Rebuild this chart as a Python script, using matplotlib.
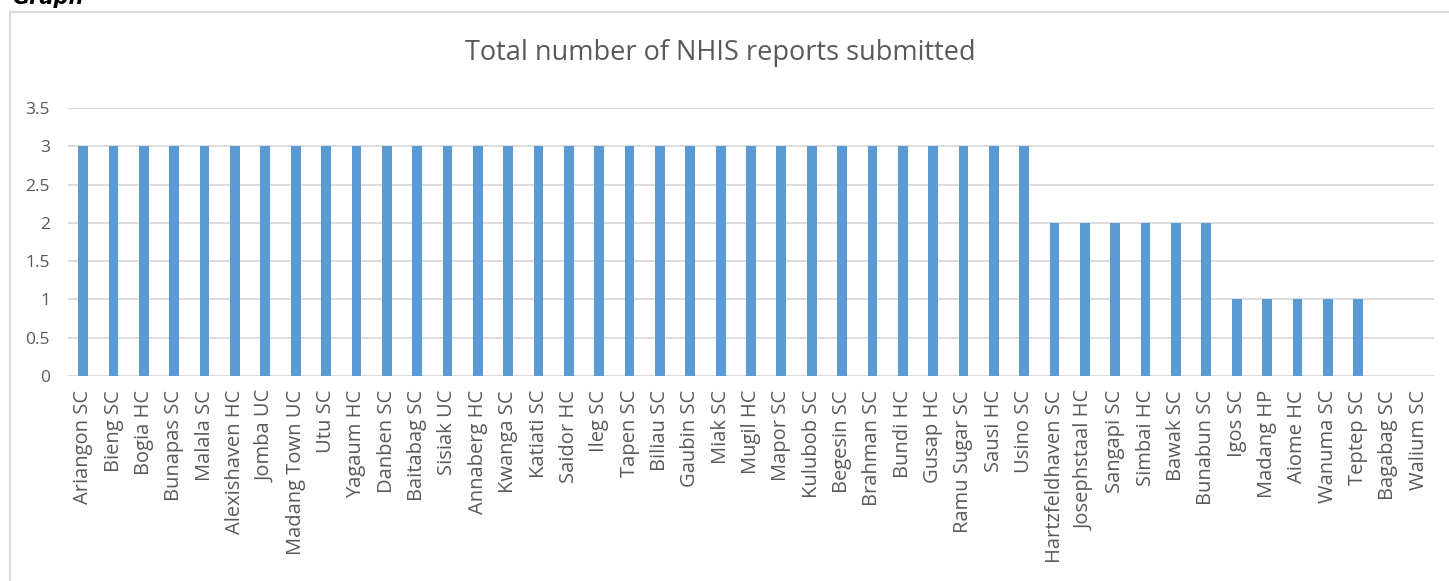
import matplotlib.pyplot as plt
from matplotlib.patches import Rectangle
import numpy as np

facilities = ["Ariangon SC", "Bieng SC", "Bogia HC", "Bunapas SC", "Malala SC",
              "Alexishaven HC", "Jomba UC", "Madang Town UC", "Utu SC", "Yagaum HC",
              "Danben SC", "Baitabag SC", "Sisiak UC", "Annaberg HC", "Kwanga SC",
              "Katiati SC", "Saidor HC", "Ileg SC", "Tapen SC", "Biliau SC",
              "Gaubin SC", "Miak SC", "Mugil HC", "Mapor SC", "Kulubob SC",
              "Begesin SC", "Brahman SC", "Bundi HC", "Gusap HC", "Ramu Sugar SC",
              "Sausi HC", "Usino SC", "Hartzfeldhaven SC", "Josephstaal HC", "Sangapi SC",
              "Simbai HC", "Bawak SC", "Bunabun SC", "Igos SC", "Madang HP",
              "Aiome HC", "Wanuma SC", "Teptep SC", "Bagabag SC", "Walium SC"]
reports = [3, 3, 3, 3, 3, 3, 3, 3, 3, 3,
           3, 3, 3, 3, 3, 3, 3, 3, 3, 3,
           3, 3, 3, 3, 3, 3, 3, 3, 3, 3,
           3, 3, 2, 2, 2, 2, 2, 2, 1, 1,
           1, 1, 1, 0, 0]
yticks = [0, 0.5, 1, 1.5, 2, 2.5, 3, 3.5]
ytick_labels = ["0", "0.5", "1", "1.5", "2", "2.5", "3", "3.5"]

W, H = 1449, 581
fig = plt.figure(figsize=(W / 100, H / 100), dpi=100)
fig.patch.set_facecolor("white")

# chart frame (runs off the right and bottom edges)
fig.patches.append(Rectangle((10 / W, -0.1), 1.2, 1 - 12 / H + 0.1,
                             transform=fig.transFigure, fill=False,
                             edgecolor="#d9d9d9", linewidth=1.6))

fig.text(12 / W, 1 - 4 / H, "Graph", fontsize=15, fontweight="bold",
         fontstyle="italic", color="black", va="baseline", ha="left")

ax = fig.add_axes([68 / W, 1 - 376 / H, (1434 - 68) / W, (376 - 108) / H])
x = np.arange(len(facilities))
ax.bar(x, reports, width=0.32, color="#5b9bd5", zorder=3)

ax.set_xlim(-0.5, len(facilities) - 0.5)
ax.set_ylim(0, 3.5)
ax.set_yticks(yticks)
ax.set_yticklabels(ytick_labels)
ax.set_xticks(x)
ax.set_xticklabels(facilities, rotation=90)
ax.tick_params(axis="both", length=0, colors="#595959")
ax.tick_params(axis="x", pad=10, labelsize=14.5)
ax.tick_params(axis="y", pad=13, labelsize=12.5)
for lbl in ax.get_xticklabels() + ax.get_yticklabels():
    lbl.set_family("Open Sans")
ax.grid(axis="y", color="#d9d9d9", linewidth=1.3, zorder=0)
for s in ax.spines.values():
    s.set_visible(False)
ax.set_facecolor("none")

fig.text(720 / W, 1 - 53 / H, "Total number of NHIS reports submitted",
         fontsize=19.5, color="#595959", ha="center", va="center", family="Open Sans")

fig.savefig("out.png", dpi=100)
